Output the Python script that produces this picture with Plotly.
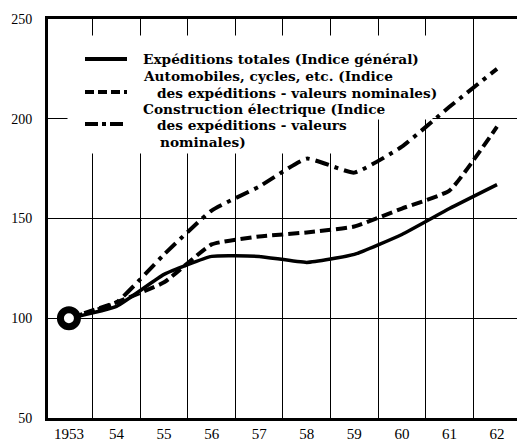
import plotly.graph_objects as go

years = [1953, 1954, 1955, 1956, 1957, 1958, 1959, 1960, 1961, 1962]
year_labels = ["1953", "54", "55", "56", "57", "58", "59", "60", "61", "62"]

totales = [100, 106, 122, 131, 131, 128, 132, 142, 155, 167]
automobiles = [100, 108, 118, 137, 141, 143, 146, 155, 164, 196]
electrique = [100, 108, 132, 154, 166, 180, 173, 186, 206, 225]

y_ticks = [50, 100, 150, 200, 250]

SERIF = "Liberation Serif"
LEGEND_FONT = "DejaVu Serif"

fig = go.Figure()

fig.add_trace(go.Scatter(x=years, y=electrique, mode="lines",
                         line=dict(color="black", width=4, dash="14px,6px,4px,6px",
                                   shape="spline", smoothing=0.4)))
fig.add_trace(go.Scatter(x=years, y=automobiles, mode="lines",
                         line=dict(color="black", width=4, dash="11px,5px",
                                   shape="spline", smoothing=0.4)))
fig.add_trace(go.Scatter(x=years, y=totales, mode="lines",
                         line=dict(color="black", width=3.5, shape="spline", smoothing=0.4)))
# starting point ring
fig.add_trace(go.Scatter(x=years[:1], y=totales[:1], mode="markers",
                         marker=dict(symbol="circle", size=17, color="white",
                                     line=dict(color="black", width=7))))


def px_x(x):
    return (x - 48) / (517 - 48)


def px_y(y):
    return (418 - y) / (418 - 19)


shapes = []
# white boxes hiding the grid behind the legend
for x0, x1, y0, y1 in [(68, 372, 36, 153), (370, 432, 36, 119)]:
    shapes.append(dict(type="rect", xref="paper", yref="paper", layer="above",
                       x0=px_x(x0), x1=px_x(x1), y0=px_y(y1), y1=px_y(y0),
                       fillcolor="white", line=dict(color="white", width=1)))

legend_lines = [
    (59, "solid"),
    (92, "9px,4px"),
    (124, "13px,4px,4px,4px"),
]
for y, dash in legend_lines:
    shapes.append(dict(type="line", xref="paper", yref="paper", layer="above",
                       x0=px_x(85), x1=px_x(127), y0=px_y(y), y1=px_y(y),
                       line=dict(color="black", width=4, dash=dash)))

legend_text = [
    (141, 59, "Expéditions totales (Indice général)"),
    (141, 76, "Automobiles, cycles, etc. (Indice"),
    (155, 93, "des expéditions - valeurs nominales)"),
    (141, 109, "Construction électrique (Indice"),
    (155, 125, "des expéditions - valeurs"),
    (158, 142, "nominales)"),
]
annotations = []
for x, y, t in legend_text:
    annotations.append(dict(xref="paper", yref="paper", x=px_x(x), y=px_y(y),
                            xanchor="left", yanchor="middle", showarrow=False,
                            text="<b>" + t + "</b>",
                            font=dict(family=LEGEND_FONT, size=13.7, color="black")))

fig.update_layout(
    width=517, height=447,
    margin=dict(l=48, r=0, t=19, b=29),
    paper_bgcolor="white", plot_bgcolor="white",
    showlegend=False,
    shapes=shapes,
    annotations=annotations,
    xaxis=dict(range=[1952.56, 1962.42], tickvals=years, ticktext=year_labels,
               showgrid=False, zeroline=False, ticks="",
               showline=True, linecolor="black", linewidth=3, mirror=True,
               tickfont=dict(family=SERIF, size=15, color="black"),
               minor=dict(tick0=1953.5, dtick=1, showgrid=True,
                          gridcolor="black", gridwidth=1)),
    yaxis=dict(range=[50, 250], tickvals=y_ticks, ticks="",
               showgrid=True, gridcolor="black", gridwidth=1.2, zeroline=False,
               showline=True, linecolor="black", linewidth=3,
               ticklabelstandoff=10,
               tickfont=dict(family=SERIF, size=14, color="black")),
)
fig.update_yaxes(tickprefix="<b>", ticksuffix="</b>")

fig.write_html("out.html", config={"displayModeBar": False},
               post_script="document.body.style.margin='0';")
